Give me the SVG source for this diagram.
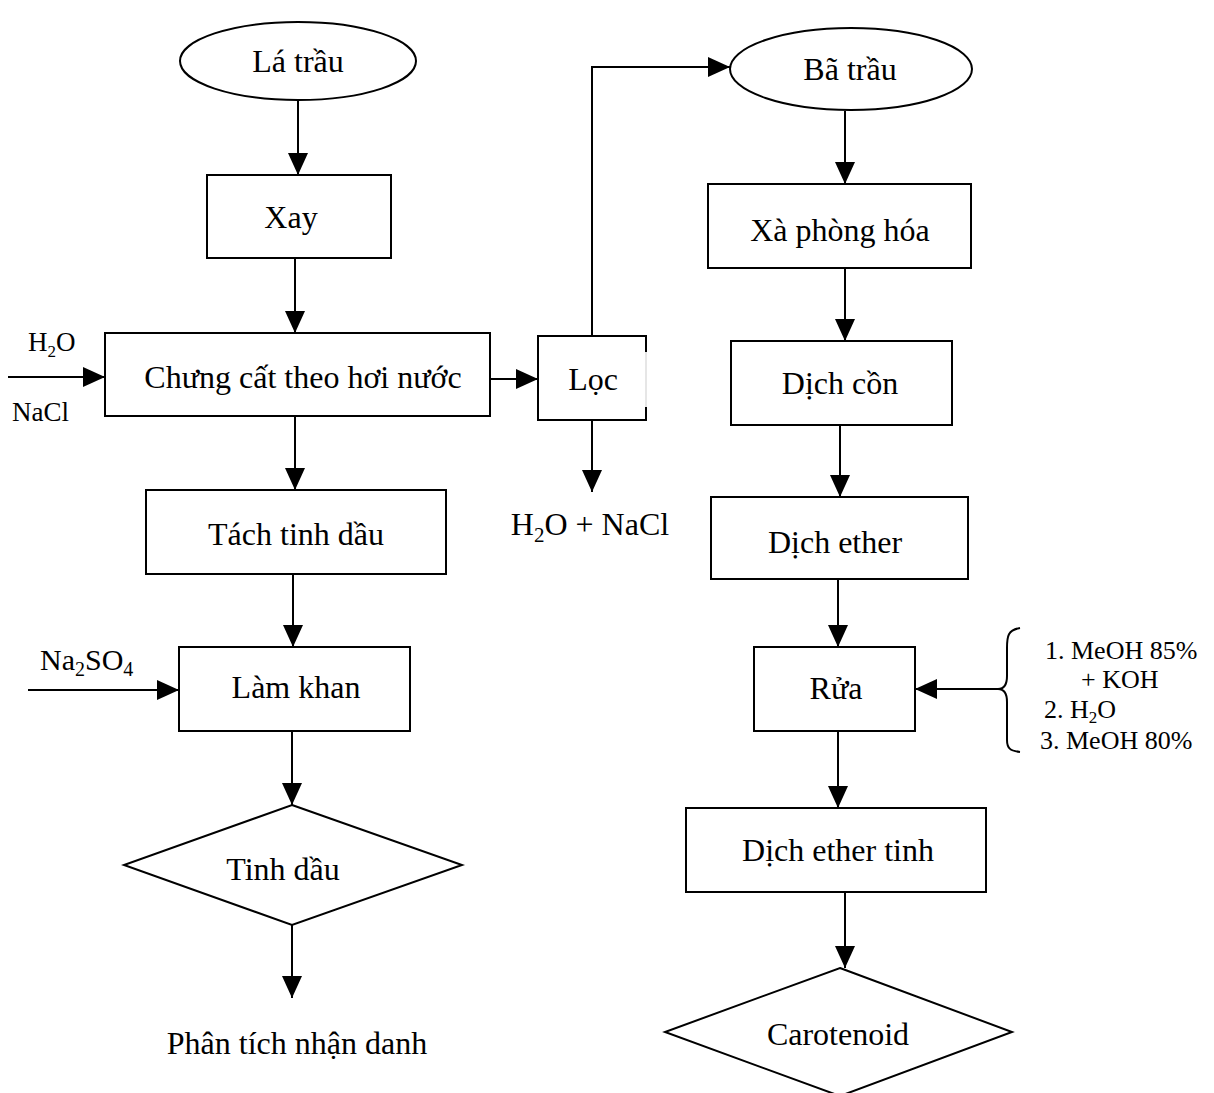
<svg xmlns="http://www.w3.org/2000/svg" width="1214" height="1093" viewBox="0 0 1214 1093">
<style>
.s{fill:none;stroke:#000;stroke-width:2}
.t{font-family:"Liberation Serif","Times New Roman",serif;font-size:32px;fill:#000;text-anchor:middle}
.l{font-family:"Liberation Serif","Times New Roman",serif;font-size:27px;fill:#000}
.b{font-family:"Liberation Serif","Times New Roman",serif;font-size:26px;fill:#000}
.c{fill:none;stroke:#000;stroke-width:2}
</style>
<defs>
<marker id="a" markerUnits="userSpaceOnUse" markerWidth="24" markerHeight="20" refX="22" refY="10" orient="auto">
<path d="M0,0 L22,10 L0,20 Z" fill="#000"/>
</marker>
</defs>
<rect width="1214" height="1093" fill="#fff"/>
<g id="connectors">
<line class="c" x1="298" y1="100" x2="298" y2="175" marker-end="url(#a)"/>
<line class="c" x1="295" y1="258" x2="295" y2="333" marker-end="url(#a)"/>
<line class="c" x1="8" y1="377" x2="105" y2="377" marker-end="url(#a)"/>
<line class="c" x1="490" y1="379" x2="538" y2="379" marker-end="url(#a)"/>
<polyline class="c" points="592,336 592,67 730,67" marker-end="url(#a)"/>
<line class="c" x1="592" y1="420" x2="592" y2="492" marker-end="url(#a)"/>
<line class="c" x1="295" y1="416" x2="295" y2="490" marker-end="url(#a)"/>
<line class="c" x1="293" y1="574" x2="293" y2="647" marker-end="url(#a)"/>
<line class="c" x1="28" y1="690" x2="179" y2="690" marker-end="url(#a)"/>
<line class="c" x1="292" y1="731" x2="292" y2="805" marker-end="url(#a)"/>
<line class="c" x1="292" y1="925" x2="292" y2="998" marker-end="url(#a)"/>
<line class="c" x1="845" y1="111" x2="845" y2="184" marker-end="url(#a)"/>
<line class="c" x1="845" y1="268" x2="845" y2="341" marker-end="url(#a)"/>
<line class="c" x1="840" y1="425" x2="840" y2="497" marker-end="url(#a)"/>
<line class="c" x1="838" y1="579" x2="838" y2="647" marker-end="url(#a)"/>
<line class="c" x1="998" y1="689" x2="915" y2="689" marker-end="url(#a)"/>
<line class="c" x1="838" y1="731" x2="838" y2="808" marker-end="url(#a)"/>
<line class="c" x1="845" y1="892" x2="845" y2="968" marker-end="url(#a)"/>
</g>
<g id="la-trau"><ellipse class="s" cx="298" cy="61" rx="118" ry="39"/><text class="t" x="298" y="72">Lá trầu</text></g>
<g id="xay"><rect class="s" x="207" y="175" width="184" height="83"/><text class="t" x="291" y="228">Xay</text></g>
<g id="chung-cat"><rect class="s" x="105" y="333" width="385" height="83"/><text class="t" x="303" y="388">Chưng cất theo hơi nước</text></g>
<g id="input-h2o-nacl"><text class="l" x="28" y="351">H<tspan font-size="17" dy="6">2</tspan><tspan dy="-6">O</tspan></text><text class="l" x="12" y="421">NaCl</text></g>
<g id="loc"><path class="s" d="M646,352 L646,336 L538,336 L538,420 L646,420 L646,407"/><line x1="646" y1="352" x2="646" y2="407" stroke="#e6e6e6" stroke-width="2"/><text class="t" x="593" y="390">Lọc</text></g>
<g id="h2o-nacl-out"><text class="t" x="590" y="535">H<tspan font-size="21" dy="7">2</tspan><tspan dy="-7">O + NaCl</tspan></text></g>
<g id="tach-tinh-dau"><rect class="s" x="146" y="490" width="300" height="84"/><text class="t" x="296" y="545">Tách tinh dầu</text></g>
<g id="na2so4"><text class="l" x="40" y="670" style="font-size:30px">Na<tspan style="font-size:20px" dy="6">2</tspan><tspan dy="-6">SO</tspan><tspan style="font-size:20px" dy="6">4</tspan></text></g>
<g id="lam-khan"><rect class="s" x="179" y="647" width="231" height="84"/><text class="t" x="296" y="698">Làm khan</text></g>
<g id="tinh-dau"><polygon class="s" points="292,805 462,865 292,925 124,865"/><text class="t" x="283" y="880">Tinh dầu</text></g>
<g id="phan-tich"><text class="t" x="297" y="1054">Phân tích nhận danh</text></g>
<g id="ba-trau"><ellipse class="s" cx="851" cy="69" rx="121" ry="41"/><text class="t" x="850" y="80">Bã trầu</text></g>
<g id="xa-phong-hoa"><rect class="s" x="708" y="184" width="263" height="84"/><text class="t" x="840" y="241">Xà phòng hóa</text></g>
<g id="dich-con"><rect class="s" x="731" y="341" width="221" height="84"/><text class="t" x="840" y="394">Dịch cồn</text></g>
<g id="dich-ether"><rect class="s" x="711" y="497" width="257" height="82"/><text class="t" x="835" y="553">Dịch ether</text></g>
<g id="rua"><rect class="s" x="754" y="647" width="161" height="84"/><text class="t" x="836" y="699">Rửa</text></g>
<g id="brace"><path class="s" d="M1020,628 C1008,630 1007,636 1007,648 L1007,676 C1007,685 1004,689 998,689 C1004,689 1007,693 1007,702 L1007,740 C1007,748 1010,751 1020,752"/>
<text class="b" x="1045" y="659">1. MeOH 85%</text>
<text class="b" x="1081" y="688">+ KOH</text>
<text class="b" x="1044" y="718">2. H<tspan style="font-size:17px" dy="5">2</tspan><tspan dy="-5">O</tspan></text>
<text class="b" x="1040" y="749">3. MeOH 80%</text></g>
<g id="dich-ether-tinh"><rect class="s" x="686" y="808" width="300" height="84"/><text class="t" x="838" y="861">Dịch ether tinh</text></g>
<g id="carotenoid"><polygon class="s" points="840,968 1012,1032 840,1096 665,1032"/><text class="t" x="838" y="1045">Carotenoid</text></g>
</svg>
